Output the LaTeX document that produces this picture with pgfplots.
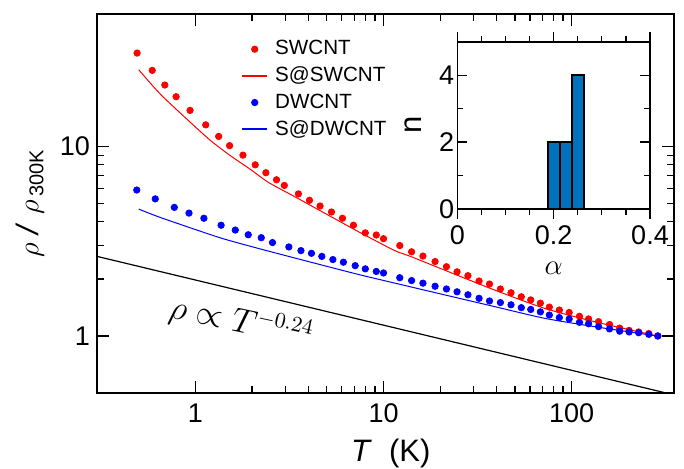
\documentclass[border=0pt]{standalone}
\usepackage{fontspec}
\setmainfont{Liberation Sans}
\usepackage{pgfplots}
\pgfplotsset{compat=1.18}
\definecolor{barblue}{HTML}{0072BD}
\pgfplotsset{
  dotleg/.style={legend image code/.code={\draw[draw=none,fill=none] (0pt,0pt) -- (12pt,0pt); \draw[##1] plot coordinates {(6pt,0pt)};}},
  lineleg/.style={legend image code/.code={\path[fill=#1] (0pt,-0.35pt) rectangle (12pt,0.35pt);}},
}

\begin{document}
\begin{tikzpicture}
\useasboundingbox (-48.5pt,-37.5pt) rectangle (293.5pt,196.5pt);
\begin{axis}[
  at={(0,0)}, anchor=south west,
  scale only axis, width=288.5pt, height=189.5pt,
  xmode=log, ymode=log,
  xmin=0.3, xmax=350, ymin=0.5, ymax=50,
  log ticks with fixed point,
  xtick={1,10,100}, ytick={1,10},
  tick align=inside,
  major tick length=5.8pt, minor tick length=3.3pt,
  axis line style={line width=0.8pt},
  every tick/.style={black, line width=0.6pt},
  /pgf/number format/assume math mode=true,
  tick label style={font=\fontsize{13.5}{16}\selectfont},
  xticklabel style={yshift=-2pt},
  every axis y label/.style={at={(axis description cs:-0.116,0.5)}, rotate=90, anchor=center},
  every axis x label/.style={at={(axis description cs:0.509,0)}, yshift=-34pt, anchor=base},
  xlabel={\fontsize{15.5}{18}\selectfont\textit{T}\ \ (K)},
  ylabel={\fontsize{15.5}{18}\selectfont $\rho$\ \textit{/}\ $\rho$\raisebox{-0.3ex}{\fontsize{10}{12}\selectfont\,300K}},
  legend style={at={(axis description cs:0.251,0.939)}, anchor=north west,
    draw=none, fill=none, inner sep=0pt, row sep=1.5pt,
    font=\fontsize{10.3}{12}\selectfont, nodes={inner sep=1.5pt},
    /tikz/every odd column/.append style={column sep=2.5pt}},
  legend cell align=left,
]

% SWCNT
\addplot[only marks, mark=*, mark size=1.6pt, color=red, dotleg] coordinates {
(0.49,31.1)(0.59,25.2)(0.688,21.1)(0.79,18.3)(0.937,15.5)(1.135,13.0)(1.33,11.3)
(1.52,10.1)(1.79,9.0)(2.08,8.0)(2.37,7.27)(2.7,6.67)(2.97,6.23)(3.53,5.62)
(4.04,5.2)(4.6,4.85)(5.29,4.51)(6.05,4.18)(6.92,3.84)(8.0,3.5)(9.15,3.41)
(10,3.26)(12.2,3.0)(14.1,2.78)(16.2,2.64)(18.8,2.47)(21.6,2.32)(24.6,2.18)
(28.1,2.08)(32.2,1.95)(36.6,1.88)(41.8,1.77)(47.6,1.69)(54,1.61)(60.6,1.55)
(68.2,1.49)(76.1,1.42)(86,1.37)(97,1.33)(110,1.27)(123,1.23)(139,1.19)
(159,1.15)(180,1.10)(202,1.07)(227,1.05)(257,1.03)(287,1.0)};
\addlegendentry{SWCNT}

% S@SWCNT
\addplot[color=red, mark=none, line width=0.5pt, smooth, tension=0.4, lineleg=red] coordinates {
(0.5,25.4)(0.598,20.7)(0.676,18.2)(0.918,13.7)(1.197,10.8)(1.53,8.96)
(1.95,7.6)(2.44,6.47)(3.32,5.48)(5.0,4.38)(7.52,3.51)(11.4,2.83)
(13.9,2.63)(21,2.23)(38.8,1.75)(71.6,1.40)(132,1.19)(285,1.0)};
\addlegendentry{S@SWCNT}

% DWCNT
\addplot[only marks, mark=*, mark size=1.6pt, color=blue, dotleg] coordinates {
(0.488,5.89)(0.612,5.29)(0.773,4.77)(0.925,4.45)(1.11,4.18)(1.37,3.84)(1.63,3.62)
(1.91,3.42)(2.24,3.30)(2.57,3.11)(3.14,2.95)(3.64,2.82)(4.14,2.73)(4.7,2.63)
(5.38,2.53)(6.12,2.45)(7.07,2.35)(8.0,2.26)(9.15,2.19)(10,2.15)(12.2,2.03)
(14.1,1.96)(16.2,1.90)(18.8,1.83)(21.6,1.77)(24.6,1.71)(28.1,1.65)(32.2,1.58)
(36.6,1.53)(41.8,1.50)(47.6,1.46)(54,1.41)(60.6,1.38)(68.2,1.34)(76.1,1.29)
(86,1.25)(97,1.23)(110,1.18)(123,1.16)(139,1.12)(159,1.09)(180,1.06)
(202,1.05)(227,1.04)(257,1.02)(287,1.0)};
\addlegendentry{DWCNT}

% S@DWCNT
\addplot[color=blue, mark=none, line width=0.5pt, smooth, tension=0.4, lineleg=blue] coordinates {
(0.5,4.67)(0.66,4.2)(1.35,3.30)(2.21,2.88)(3.32,2.59)(5.0,2.33)(7.52,2.10)
(11.5,1.90)(21,1.65)(38.8,1.43)(71.6,1.24)(132,1.12)(285,1.0)};
\addlegendentry{S@DWCNT}

% power law guide
\addplot[black, line width=0.6pt, forget plot] coordinates {(0.3,2.63)(310,0.503)};

\node[rotate=-12, font=\fontsize{16}{19}\selectfont] at (axis cs:1.75,1.18) {$\rho \propto T^{-0.24}$};
\end{axis}

% inset histogram
\begin{axis}[
  at={(180.15pt,92pt)}, anchor=south west,
  scale only axis, width=96.35pt, height=83.65pt,
  xmin=0, xmax=0.4, ymin=0, ymax=5,
  xtick={0,0.2,0.4}, ytick={0,2,4},
  minor x tick num=3, minor y tick num=1,
  tick align=inside, major tick length=5pt, minor tick length=3pt,
  axis line style={line width=0.8pt},
  every tick/.style={black, line width=0.6pt},
  axis background/.style={fill=white},
  /pgf/number format/assume math mode=true,
  tick label style={font=\fontsize{13.5}{16}\selectfont},
  yticklabel style={xshift=2pt},
  xlabel={\fontsize{15.5}{18}\selectfont$\alpha$},
  ylabel={\fontsize{15.5}{18}\selectfont n},
  every axis x label/.style={at={(axis description cs:0.5,0)}, yshift=-29.5pt, anchor=center},
  every axis y label/.style={at={(axis description cs:0,0.5)}, xshift=-22pt, rotate=90, anchor=center},
  ybar, bar width=0.025,
]
\addplot[fill=barblue, draw=black, line width=1pt] coordinates {(0.2,2)(0.225,2)(0.25,4)};
\end{axis}
\end{tikzpicture}
\end{document}
